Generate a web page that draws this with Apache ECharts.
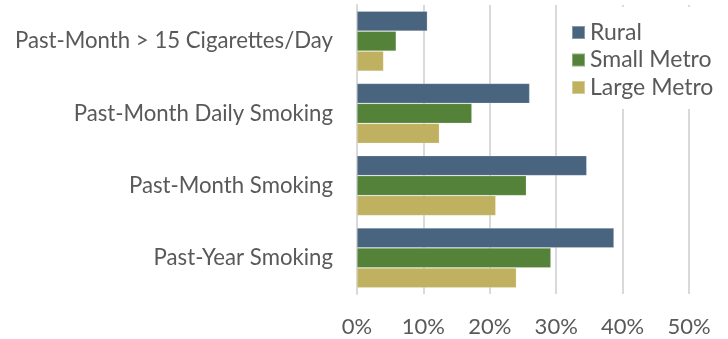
<!DOCTYPE html>
<html>
<head>
<meta charset="utf-8">
<script src="https://cdn.jsdelivr.net/npm/echarts@6/dist/echarts.min.js"></script>
<style>
html,body{margin:0;padding:0;background:#fff;}
#c{width:728px;height:339px;}
</style>
</head>
<body>
<div id="c"></div>
<script>
const categories = ["Past-Month > 15 Cigarettes/Day", "Past-Month Daily Smoking", "Past-Month Smoking", "Past-Year Smoking"];
const seriesNames = ["Rural", "Small Metro", "Large Metro"];
const rural = [10.6, 26.0, 34.6, 38.7];
const smallMetro = [5.9, 17.3, 25.5, 29.2];
const largeMetro = [4.0, 12.4, 20.9, 24.0];
const xTicks = [0, 10, 20, 30, 40, 50];

const colors = ["#48647F", "#548239", "#BFB15F"];
const font = "Lato, 'Open Sans', sans-serif";
const textColor = "#595959";

const chart = echarts.init(document.getElementById('c'));
const values = [rural, smallMetro, largeMetro];
chart.setOption({
  animation: false,
  grid: {left: 357, right: 39, top: 5, bottom: 45, containLabel: false},
  legend: {
    orient: 'vertical',
    left: 558,
    top: 7,
    padding: [14, 10, 10, 13],
    backgroundColor: '#fff',
    itemWidth: 13,
    itemHeight: 13,
    itemGap: 4.5,
    icon: 'rect',
    data: seriesNames,
    textStyle: {fontFamily: font, fontSize: 23, color: textColor, lineHeight: 23, padding: [0, 0, 0, 0]}
  },
  xAxis: {
    type: 'value',
    min: xTicks[0],
    max: xTicks[xTicks.length - 1],
    interval: 10,
    axisLine: {show: false},
    axisTick: {show: false},
    splitLine: {show: true, lineStyle: {color: '#D9D9D9', width: 2}},
    axisLabel: {formatter: '{value}%', fontFamily: font, fontSize: 22, color: textColor, margin: 22}
  },
  yAxis: {
    type: 'category',
    data: categories,
    inverse: true,
    axisLine: {show: true, lineStyle: {color: '#D9D9D9', width: 2}},
    axisTick: {show: false},
    axisLabel: {fontFamily: font, fontSize: 22.2, color: textColor, margin: 24}
  },
  series: seriesNames.map((n, i) => ({
    name: n,
    type: 'bar',
    data: values[i],
    barGap: '0%',
    barCategoryGap: '17%',
    itemStyle: {color: colors[i], borderColor: 'rgba(255,255,255,0.35)', borderWidth: 0.6},
    z: 3
  }))
});
</script>
</body>
</html>
